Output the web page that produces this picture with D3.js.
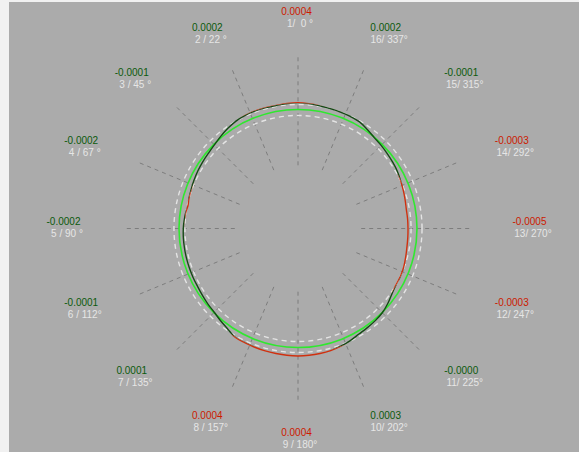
<!DOCTYPE html>
<html><head><meta charset="utf-8">
<script src="https://cdn.jsdelivr.net/npm/d3@7/dist/d3.min.js"></script>
<style>
html,body{margin:0;padding:0;background:#f1f1f1;}
svg{display:block;}
text{font-family:"Liberation Sans",Arial,sans-serif;font-size:10px;white-space:pre;}
</style></head><body>
<script>
// ---- data ----
const pointIndex = [1,2,3,4,5,6,7,8,9,10,11,12,13,14,15,16];
const pointAngles = [0,22.5,45,67.5,90,112.5,135,157.5,180,202.5,225,247.5,270,292.5,315,337.5];
const angleLabels = ["1/  0 °","2 / 22 °","3 / 45 °","4 / 67 °","5 / 90 °","6 / 112°","7 / 135°","8 / 157°",
                     "9 / 180°","10/ 202°","11/ 225°","12/ 247°","13/ 270°","14/ 292°","15/ 315°","16/ 337°"];
const pointValues = ["0.0004","0.0002","-0.0001","-0.0002","-0.0002","-0.0001","0.0001","0.0004",
                     "0.0004","0.0003","-0.0000","-0.0003","-0.0005","-0.0003","-0.0001","0.0002"];
const pointOut = [true,false,false,false,false,false,false,true,true,false,false,true,true,true,false,false];
// measured profile: angle (deg, counter-clockwise from top) and deviation (µm)
const profileAngles = [0,5,10,15,20,25,30,35,40,45,50,55,60,65,70,75,78,82,86,90,95,100,105,110,115,120,125,130,135,140,145,150,155,160,165,170,175,180,185,190,195,200,205,210,215,220,225,230,235,240,245,250,255,260,265,270,275,280,285,290,295,300,305,310,315,320,325,330,335,340,345,350,355];
const profileDev =    [0.38,0.36,0.33,0.34,0.34,0.33,0.28,0.18,0.07,-0.04,-0.11,-0.15,-0.19,-0.24,-0.29,-0.33,-0.37,-0.31,-0.27,-0.24,-0.22,-0.21,-0.20,-0.19,-0.18,-0.17,-0.13,-0.08,-0.03,0.08,0.2,0.37,0.39,0.41,0.43,0.44,0.46,0.47,0.46,0.44,0.41,0.35,0.26,0.16,0.11,0.07,0.01,-0.11,-0.25,-0.33,-0.33,-0.36,-0.42,-0.47,-0.49,-0.5,-0.5,-0.5,-0.45,-0.39,-0.32,-0.24,-0.19,-0.14,-0.08,-0.02,0.1,0.23,0.26,0.27,0.28,0.31,0.35];
const tolUpper = 0.355, tolLower = -0.305;   // µm
const innerCircleDev = -0.33, outerCircleDev = 0.28; // µm
const spokeRange = [-3.1, 2.9]; // µm, radial guide lines

// ---- layout ----
const W = 579, H = 452;
const cx = 298, cy = 228.5;
const r = d3.scaleLinear().domain([0, 1]).range([119, 137]); // deviation µm -> radius px

const svg = d3.select("body").append("svg").attr("width", W).attr("height", H);
svg.append("rect").attr("x", 9).attr("y", 2).attr("width", W - 9).attr("height", H - 2).attr("fill", "#ababab");

const g = svg.append("g").attr("transform", `translate(${cx},${cy})`);
const rad = a => a * Math.PI / 180;

// spokes
g.selectAll("line.spoke").data(pointAngles).join("line")
  .attr("x1", a => -r(spokeRange[0]) * Math.sin(rad(a)))
  .attr("y1", a => -r(spokeRange[0]) * Math.cos(rad(a)))
  .attr("x2", a => -r(spokeRange[1]) * Math.sin(rad(a)))
  .attr("y2", a => -r(spokeRange[1]) * Math.cos(rad(a)))
  .attr("stroke", "#7d7d7d").attr("stroke-width", 1).attr("stroke-dasharray", "4,4");

// tolerance circles
[innerCircleDev, outerCircleDev].forEach(d => {
  g.append("circle").attr("r", r(d)).attr("fill", "none")
    .attr("stroke", "#e4e4e4").attr("stroke-width", 1.4).attr("stroke-dasharray", "5,4");
});
// reference circle
g.append("circle").attr("r", r(0)).attr("fill", "none").attr("stroke", "#2fe82f").attr("stroke-width", 1.6);

// clips
const circPath = (rr) => `M${rr},0A${rr},${rr} 0 1,1 ${-rr},0A${rr},${rr} 0 1,1 ${rr},0Z`;
const defs = svg.append("defs");
defs.append("clipPath").attr("id", "inTol").append("path")
  .attr("clip-rule", "evenodd").attr("d", circPath(r(tolUpper)) + circPath(r(tolLower)));
defs.append("clipPath").attr("id", "outTol").append("path")
  .attr("clip-rule", "evenodd").attr("d", "M-400,-400H400V400H-400Z" + circPath(r(tolUpper)) + circPath(r(tolLower)));

const prof = profileAngles.map((a, i) => [-rad(a), r(profileDev[i])]);
const line = d3.lineRadial().angle(d => d[0]).radius(d => d[1]).curve(d3.curveCatmullRomClosed.alpha(0.5));
g.append("path").attr("d", line(prof)).attr("fill", "none").attr("stroke", "#164a16")
  .attr("stroke-width", 1.4).attr("clip-path", "url(#inTol)");
g.append("path").attr("d", line(prof)).attr("fill", "none").attr("stroke", "#d0300f")
  .attr("stroke-width", 1.4).attr("clip-path", "url(#outTol)");

// labels
const lcx = 296.5, lcy = 221.5, lrx = 233, lry = 210.5;
const lab = svg.append("g");
pointAngles.forEach((a, i) => {
  const x = lcx - lrx * Math.sin(rad(a));
  const y = lcy - lry * Math.cos(rad(a));
  lab.append("text").attr("x", x).attr("y", y + 3.5).attr("text-anchor", "middle")
    .attr("fill", pointOut[i] ? "#cc1a00" : "#0b5a0b").text(pointValues[i]);
  lab.append("text").attr("x", x + 3.5).attr("y", y + 15.5).attr("text-anchor", "middle")
    .attr("fill", "#e6e6e6").text(angleLabels[i]);
});
</script>
</body></html>
